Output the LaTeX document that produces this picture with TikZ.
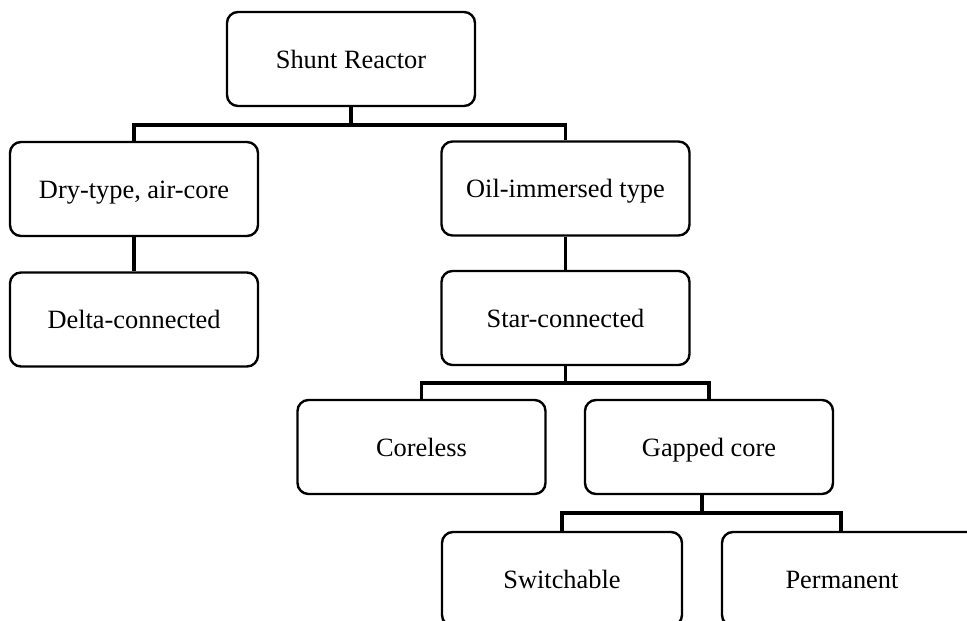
\documentclass[tikz,border=0pt]{standalone}
\usepackage{fontspec}
\setmainfont{Liberation Serif}
\begin{document}
\begin{tikzpicture}[x=1pt,y=-1pt,
  box/.style={draw=black,line width=2.4pt,rounded corners=11pt,fill=white,
    minimum width=#1,minimum height=94pt,inner sep=0pt,
    text height=21pt,text depth=3pt,
    font=\fontsize{26.4}{30}\selectfont},
  box/.default=248pt,
  conn/.style={draw=black,line width=3.2pt}]
\path[use as bounding box] (0,0) rectangle (967,621);
\clip (0,0) rectangle (967,621);
\fill[white] (0,0) rectangle (967,621);
% nodes
\node[box] (shunt) at (351,59) {Shunt Reactor};
\node[box] (dry) at (134,189) {Dry-type, air-core};
\node[box] (delta) at (134,319.5) {Delta-connected};
\node[box] (oil) at (565.5,188.5) {Oil-immersed type};
\node[box] (star) at (565.5,318) {Star-connected};
\node[box] (coreless) at (421.5,447) {Coreless};
\node[box] (gapped) at (709,447) {Gapped core};
\node[box=240pt] (switch) at (562,579) {Switchable};
\node[box=262pt] (perm) at (853,579) {Permanent\kern22pt};
% bus coordinates
\coordinate (b1) at (351,125);
\coordinate (b2) at (565.5,383);
\coordinate (b3) at (702,513);
\coordinate (pdrop) at ([xshift=-12pt]perm.north);
% connectors
\draw[conn] (shunt.south) -- (b1);
\draw[conn] (dry.north) |- (b1) -| (oil.north);
\draw[conn] (dry.south) -- (delta.north);
\draw[conn] (oil.south) -- (star.north);
\draw[conn] (star.south) -- (b2);
\draw[conn] (coreless.north) |- (b2) -| (gapped.north);
\draw[conn] (702,494) -- (b3);
\draw[conn] (switch.north) |- (b3) -| (pdrop);
\end{tikzpicture}
\end{document}
